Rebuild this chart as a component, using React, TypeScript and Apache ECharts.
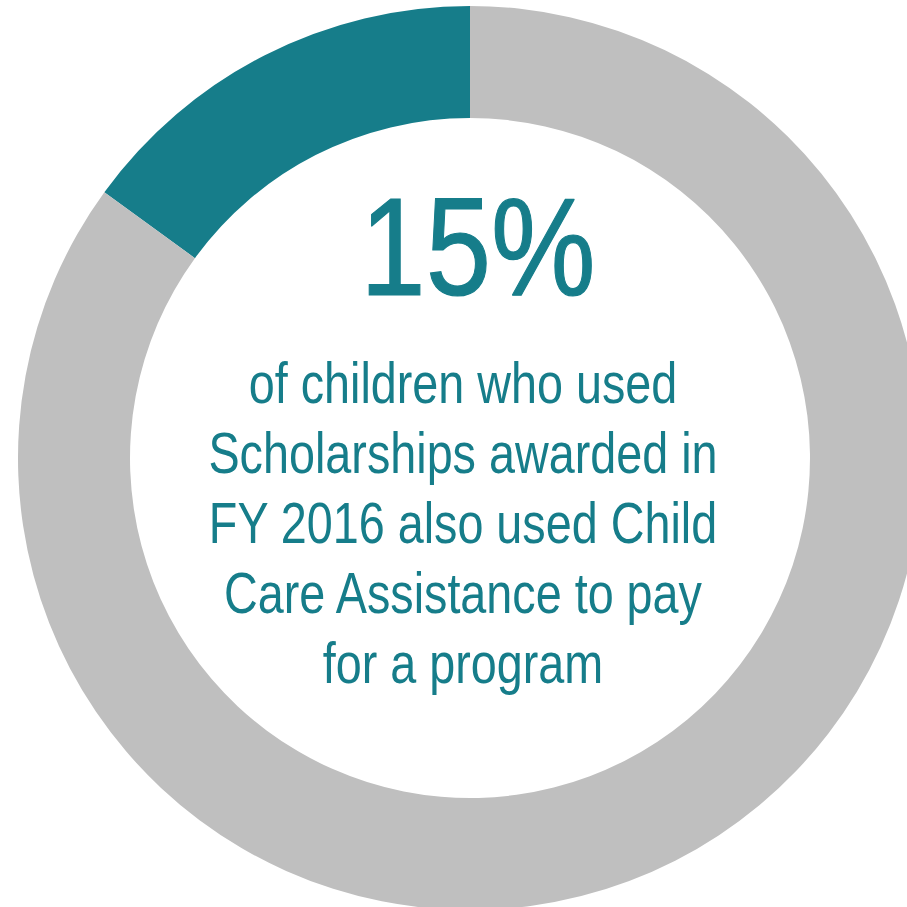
import React, { useEffect, useRef } from "react";
import * as echarts from "echarts";

const categories = ["Also used Child Care Assistance", "Did not"];
const values = [15, 85];
const colors = ["#167D8A", "#BFBFBF"];
const headline = "15%";
const bodyLines = [
  "of children who used",
  "Scholarships awarded in",
  "FY 2016 also used Child",
  "Care Assistance to pay",
  "for a program",
];

export default function App() {
  const ref = useRef<HTMLDivElement>(null);
  useEffect(() => {
    if (!ref.current) return;
    const chart = echarts.init(ref.current, null, { renderer: "svg" });
    chart.setOption({
      animation: false,
      backgroundColor: "#FFFFFF",
      series: [
        {
          type: "pie",
          center: [470, 458],
          radius: [340, 452],
          startAngle: 90,
          clockwise: false,
          label: { show: false },
          labelLine: { show: false },
          silent: true,
          itemStyle: { borderWidth: 0 },
          data: categories.map((c, i) => ({
            name: c,
            value: values[i],
            itemStyle: { color: colors[i] },
          })),
        },
      ],
      graphic: [
        {
          type: "text",
          x: 478,
          y: 176,
          scaleX: 0.84,
          style: {
            text: headline,
            fill: "#167D8A",
            stroke: "#167D8A",
            lineWidth: 1.2,
            fontFamily: "'Liberation Sans', Arial, sans-serif",
            fontSize: 140,
            textAlign: "center",
          },
        },
        {
          type: "text",
          x: 463,
          y: 348,
          scaleX: 0.82,
          style: {
            text: bodyLines.join("\n"),
            fill: "#167D8A",
            fontFamily: "'Liberation Sans', Arial, sans-serif",
            fontSize: 57,
            lineHeight: 70,
            textAlign: "center",
          },
        },
      ],
    });
    return () => chart.dispose();
  }, []);
  return (
    <div
      ref={ref}
      style={{ position: "absolute", left: 0, top: 0, width: 907, height: 907 }}
    />
  );
}
